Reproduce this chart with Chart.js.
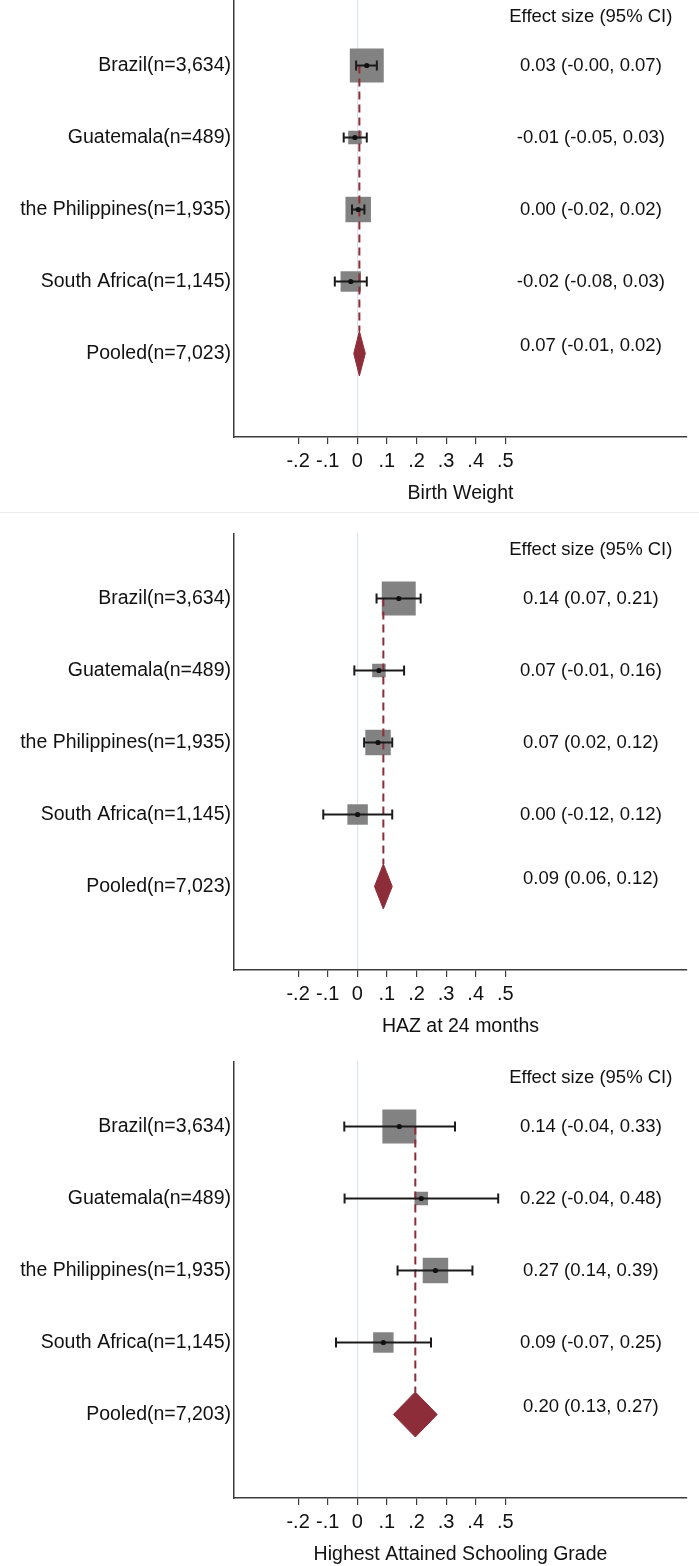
<!DOCTYPE html>
<html>
<head>
<meta charset="utf-8">
<title>Forest plots</title>
<script src="https://cdn.jsdelivr.net/npm/chart.js@4.4.1/dist/chart.umd.min.js"></script>
<style>
    html, body { margin: 0; padding: 0; background: #fff; overflow: hidden; }
    .page { position: relative; width: 699px; height: 1566px; }
    .page canvas { position: absolute; left: 0; }
    .sep { position: absolute; left: 0; width: 699px; top: 512px; height: 1px; background: #ececec; }
</style>
</head>
<body>
<div class="page">
    <canvas id="panel0" width="699" height="505" style="top:0px"></canvas>
    <div class="sep"></div>
    <canvas id="panel1" width="699" height="505" style="top:533px"></canvas>
    <canvas id="panel2" width="699" height="505" style="top:1061px"></canvas>
</div>
<script>
// ── Data ──
const studies = ['Brazil(n=3,634)', 'Guatemala(n=489)', 'the Philippines(n=1,935)', 'South Africa(n=1,145)'];
const pooledLabels = ['Pooled(n=7,023)', 'Pooled(n=7,023)', 'Pooled(n=7,203)'];
const studyWeights = [48.0, 7.6, 27.0, 17.4];   // % weight -> square area
const outcomes = ['Birth Weight', 'HAZ at 24 months', 'Highest Attained Schooling Grade'];

const bwEst = [0.032, -0.008, 0.003, -0.022];
const bwLo  = [-0.004, -0.046, -0.018, -0.076];
const bwHi  = [0.066, 0.032, 0.024, 0.032];

const hazEst = [0.140, 0.073, 0.070, 0.001];
const hazLo  = [0.065, -0.010, 0.023, -0.115];
const hazHi  = [0.214, 0.158, 0.118, 0.118];

const schEst = [0.142, 0.216, 0.264, 0.088];
const schLo  = [-0.044, -0.043, 0.136, -0.072];
const schHi  = [0.330, 0.476, 0.389, 0.249];

const pooledEst = [0.007, 0.088, 0.196];
const pooledLo  = [-0.012, 0.058, 0.122];
const pooledHi  = [0.027, 0.118, 0.270];

const bwText  = ['0.03 (-0.00, 0.07)', '-0.01 (-0.05, 0.03)', '0.00 (-0.02, 0.02)', '-0.02 (-0.08, 0.03)', '0.07 (-0.01, 0.02)'];
const hazText = ['0.14 (0.07, 0.21)', '0.07 (-0.01, 0.16)', '0.07 (0.02, 0.12)', '0.00 (-0.12, 0.12)', '0.09 (0.06, 0.12)'];
const schText = ['0.14 (-0.04, 0.33)', '0.22 (-0.04, 0.48)', '0.27 (0.14, 0.39)', '0.09 (-0.07, 0.25)', '0.20 (0.13, 0.27)'];

const xTickValues = [-0.2, -0.1, 0, 0.1, 0.2, 0.3, 0.4, 0.5];
const xTickLabels = ['-.2', '-.1', '0', '.1', '.2', '.3', '.4', '.5'];

// ── Style constants ──
const FONT = "'Liberation Sans', Arial, sans-serif";
const GREY_BOX = '#828282';
const MAROON = '#8e2d3a';
const ZERO_LINE = '#dce7eb';
const AXIS = '#3d3d3d';
const TEXT_X = 0.789;          // centre of the effect-size column
const HEADER_ROW = 0.33;
const POOLED_SHIFT = 0.1;
const DIAMOND_HALF = 0.3125;   // rows
const MAX_SIDE = 49;           // px side for a 100% weight square

Chart.defaults.font.family = FONT;
Chart.defaults.color = '#111';

function buildPanel(idx, est, lo, hi, texts) {
    const canvas = document.getElementById('panel' + idx);
    const ctx = canvas.getContext('2d');
    const rowLabels = studies.concat([pooledLabels[idx]]);
    const pooledRow = studies.length + 1;

    const rows = studies.map((s, i) => i + 1);
    const points = rows.map((r, i) => ({ x: est[i], y: r }));
    const sides = studyWeights.map(w => Math.sqrt(w / 100) * MAX_SIDE);

    const datasets = [];

    // point estimates (on top)
    datasets.push({
        type: 'scatter', data: points,
        pointStyle: 'circle', pointRadius: 2.6,
        backgroundColor: '#111', borderWidth: 0
    });

    // confidence intervals with caps
    rows.forEach((r, i) => {
        datasets.push({
            type: 'line',
            data: [{ x: lo[i], y: r }, { x: hi[i], y: r }],
            borderColor: '#1a1a1a', borderWidth: 2,
            pointStyle: 'line', rotation: 90, pointRadius: 5,
            pointBorderColor: '#1a1a1a', pointBorderWidth: 2,
            fill: false
        });
    });

    // pooled estimate reference line
    datasets.push({
        type: 'line',
        data: [{ x: pooledEst[idx], y: 1 }, { x: pooledEst[idx], y: pooledRow - DIAMOND_HALF }],
        borderColor: MAROON, borderWidth: 2, borderDash: [8, 5],
        pointRadius: 0, fill: false
    });

    // pooled diamond
    datasets.push({
        type: 'line',
        data: [
            { x: pooledLo[idx], y: pooledRow },
            { x: pooledEst[idx], y: pooledRow - DIAMOND_HALF },
            { x: pooledHi[idx], y: pooledRow },
            { x: pooledEst[idx], y: pooledRow + DIAMOND_HALF },
            { x: pooledLo[idx], y: pooledRow }
        ],
        borderColor: MAROON, borderWidth: 1, backgroundColor: MAROON,
        pointRadius: 0, tension: 0, fill: 'shape'
    });

    // weight squares (bottom)
    datasets.push({
        type: 'scatter', data: points,
        pointStyle: 'rect', pointRadius: sides.map(s => s / Math.SQRT2),
        backgroundColor: GREY_BOX, borderWidth: 0
    });

    const effectText = {
        id: 'effectText',
        afterDatasetsDraw(chart) {
            const c = chart.ctx;
            const x = chart.scales.x, y = chart.scales.y;
            c.save();
            c.fillStyle = '#111';
            c.textAlign = 'center';
            c.textBaseline = 'middle';
            c.font = '18.5px ' + FONT;
            const tx = x.getPixelForValue(TEXT_X);
            c.fillText('Effect size (95% CI)', tx, y.getPixelForValue(HEADER_ROW));
            texts.forEach((t, i) => {
                const row = i + 1 === pooledRow ? pooledRow - POOLED_SHIFT : i + 1;
                c.fillText(t, tx, y.getPixelForValue(row));
            });
            c.restore();
        }
    };

    new Chart(ctx, {
        data: { datasets: datasets },
        options: {
            responsive: false,
            animation: false,
            events: [],
            layout: { autoPadding: false, padding: { left: 0, right: 12, top: 0, bottom: 0 } },
            plugins: { legend: { display: false }, tooltip: { enabled: false } },
            scales: {
                x: {
                    type: 'linear', min: -0.4166, max: 1.1139,
                    afterBuildTicks: s => { s.ticks = xTickValues.map(v => ({ value: v })); },
                    afterFit: s => {
                        s.height = 505 - 437;
                        s.paddingLeft = 0; s.paddingRight = 0;
                    },
                    ticks: {
                        font: { size: 20 }, color: '#111', padding: 5,
                        maxRotation: 0, autoSkip: false,
                        callback: (v, i) => xTickLabels[i]
                    },
                    grid: {
                        color: c => (c.tick && c.tick.value === 0 ? ZERO_LINE : 'rgba(0,0,0,0)'),
                        lineWidth: 1.2, tickColor: AXIS, tickLength: 7, tickWidth: 1.2
                    },
                    border: { color: AXIS, width: 1.5 },
                    title: {
                        display: true, text: outcomes[idx], color: '#111',
                        font: { size: 19.5 }, padding: { top: 0, bottom: 0 }
                    }
                },
                y: {
                    type: 'linear', reverse: true, min: 0.09, max: 6.16,
                    afterBuildTicks: s => { s.ticks = rowLabels.map((l, i) => ({ value: i + 1 })); },
                    afterFit: s => {
                        s.width = 234;
                        s.paddingTop = 0; s.paddingBottom = 0;
                    },
                    ticks: {
                        font: { size: 19.5 }, color: '#111', padding: 3,
                        autoSkip: false,
                        callback: v => rowLabels[v - 1]
                    },
                    grid: { display: false, drawTicks: false },
                    border: { color: AXIS, width: 1.5 }
                }
            }
        },
        plugins: [effectText]
    });
}

// ── Build the three panels ──
buildPanel(0, bwEst, bwLo, bwHi, bwText);
buildPanel(1, hazEst, hazLo, hazHi, hazText);
buildPanel(2, schEst, schLo, schHi, schText);
</script>
</body>
</html>
